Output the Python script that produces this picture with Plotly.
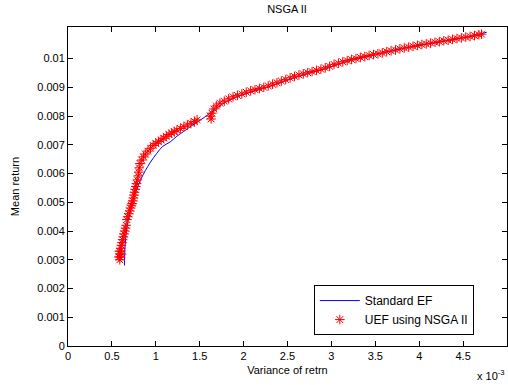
import plotly.graph_objects as go

# Standard efficient frontier (variance in units of 1e-3, mean return)
ef_var = [0.644, 0.645, 0.648, 0.655, 0.665, 0.68, 0.70, 0.725, 0.755, 0.79, 0.83, 0.88, 0.94,
          1.01, 1.08, 1.164, 1.24, 1.315, 1.41, 1.506, 1.62, 1.75, 1.885, 2.075, 2.265, 2.455,
          2.645, 2.835, 3.0, 3.21, 3.5, 3.78, 4.0, 4.35, 4.6, 4.77]
ef_mean = [0.0028, 0.0031, 0.0034, 0.0037, 0.0040, 0.0043, 0.0046, 0.0049, 0.0052, 0.0055, 0.0058,
           0.0061, 0.0064, 0.0067, 0.00695, 0.0071, 0.0073, 0.00746, 0.00767, 0.00786, 0.0081,
           0.0084, 0.00862, 0.00883, 0.0090, 0.0092, 0.0094, 0.00957, 0.00972, 0.00993, 0.01013,
           0.01033, 0.01046, 0.01064, 0.01078, 0.01092]

# UEF using NSGA II (variance in units of 1e-3, mean return)
uef_var = [0.580, 0.585, 0.610, 0.590, 0.592, 0.595, 0.598, 0.602, 0.608, 0.615, 0.622, 0.630, 0.638,
           0.646, 0.655, 0.662, 0.670, 0.680, 0.692, 0.702, 0.712, 0.722, 0.730, 0.738, 0.745,
           0.752, 0.758, 0.765, 0.772, 0.780, 0.790, 0.800, 0.805, 0.812,
           0.82, 0.84, 0.86, 0.88, 0.91, 0.94, 0.97, 1.00, 1.03, 1.06, 1.09, 1.12, 1.15, 1.18,
           1.21, 1.24, 1.28, 1.32, 1.36, 1.40, 1.44, 1.47,
           1.62, 1.63, 1.64, 1.66, 1.69, 1.73, 1.78, 1.83, 1.88, 1.93, 1.98, 2.03, 2.08, 2.13,
           2.18, 2.23, 2.28, 2.33, 2.38, 2.43, 2.48, 2.53, 2.58, 2.63, 2.68, 2.73, 2.78, 2.83,
           2.88, 2.93, 2.98, 3.03, 3.08, 3.13, 3.18, 3.23, 3.28, 3.33, 3.38, 3.43, 3.48, 3.53,
           3.58, 3.63, 3.68, 3.73, 3.78, 3.83, 3.88, 3.93, 3.98, 4.03, 4.08, 4.13, 4.18, 4.23,
           4.28, 4.33, 4.38, 4.43, 4.48, 4.53, 4.58, 4.63, 4.68, 4.71]
uef_mean = [0.00310, 0.00330, 0.00320, 0.00300, 0.00310, 0.00320, 0.00330, 0.00340, 0.00350, 0.00360,
            0.00370, 0.00380, 0.00390, 0.00400, 0.00410, 0.00420, 0.00440, 0.00450, 0.00460,
            0.00470, 0.00480, 0.00490, 0.00496, 0.00505, 0.00515, 0.00525, 0.00535, 0.00545,
            0.00555, 0.00565, 0.00578, 0.00592, 0.00605, 0.00620,
            0.00635, 0.00647, 0.00658, 0.00668, 0.00678, 0.00688, 0.00698, 0.00705, 0.00711,
            0.00717, 0.00723, 0.00730, 0.00736, 0.00741, 0.00746, 0.00751, 0.00757, 0.00763,
            0.00769, 0.00775, 0.00781, 0.00787,
            0.00800, 0.00790, 0.00810, 0.00825, 0.00835, 0.00845, 0.00852, 0.00860, 0.00867,
            0.00872, 0.00877, 0.00883, 0.00888, 0.00892, 0.00896, 0.00900, 0.00905, 0.00911,
            0.00916, 0.00922, 0.00927, 0.00933, 0.00938, 0.00943, 0.00947, 0.00951, 0.00955,
            0.00959, 0.00963, 0.00968, 0.00973, 0.00980, 0.00984, 0.00989, 0.00993, 0.00997,
            0.01000, 0.01004, 0.01007, 0.01011, 0.01014, 0.01017, 0.01020, 0.01024, 0.01027,
            0.01030, 0.01034, 0.01037, 0.01040, 0.01043, 0.01046, 0.01049, 0.01051, 0.01054,
            0.01057, 0.01059, 0.01062, 0.01064, 0.01067, 0.01070, 0.01072, 0.01075, 0.01077,
            0.01080, 0.01083, 0.01085]

x_ticks = [0, 0.5, 1, 1.5, 2, 2.5, 3, 3.5, 4, 4.5, 5]
x_ticktext = ["0", "0.5", "1", "1.5", "2", "2.5", "3", "3.5", "4", "4.5", "5"]
y_ticks = [0, 0.001, 0.002, 0.003, 0.004, 0.005, 0.006, 0.007, 0.008, 0.009, 0.01]
y_ticktext = ["0", "0.001", "0.002", "0.003", "0.004", "0.005", "0.006", "0.007", "0.008", "0.009", "0.01"]

FONT = "Liberation Sans, Arial, sans-serif"

fig = go.Figure()
fig.add_trace(go.Scatter(
    x=ef_var, y=ef_mean, mode="lines", name="Standard EF",
    line=dict(color="#0000ff", width=1), line_shape="spline"))
fig.add_trace(go.Scatter(
    x=uef_var, y=uef_mean, mode="markers", name="UEF using NSGA II",
    marker=dict(symbol="asterisk-open", size=8, color="#ff0000",
                line=dict(color="#ff0000", width=1))))

axis_common = dict(showline=True, linecolor="black", linewidth=1, mirror="ticks",
                   ticks="inside", ticklen=5, tickcolor="black", tickwidth=1,
                   showgrid=False, zeroline=False, automargin=False,
                   tickfont=dict(family=FONT, size=11, color="black"))

fig.update_layout(
    width=508, height=385,
    margin=dict(l=68, r=1, t=27, b=39),
    paper_bgcolor="white", plot_bgcolor="white",
    font=dict(family=FONT, size=11, color="black"),
    title=dict(text="NSGA II", x=0.565, xanchor="center", y=0.975, yanchor="middle",
               font=dict(family=FONT, size=11, color="black")),
    xaxis=dict(range=[0, 5], tickvals=x_ticks, ticktext=x_ticktext,
               title=dict(text="Variance of retrn", standoff=5,
                          font=dict(family=FONT, size=11)),
               **axis_common),
    yaxis=dict(range=[0, 0.0111], tickvals=y_ticks, ticktext=y_ticktext,
               title=dict(text="Mean return", standoff=15,
                          font=dict(family=FONT, size=11)),
               **axis_common),
    legend=dict(x=0.56, y=0.191, xanchor="left", yanchor="top",
                bgcolor="white", bordercolor="black", borderwidth=1,
                font=dict(family=FONT, size=12, color="black"),
                tracegroupgap=0, itemwidth=40),
    annotations=[dict(text="x 10<sup>-3</sup>", xref="paper", yref="paper",
                      x=1.0, y=-0.119, xanchor="right", yanchor="bottom", showarrow=False,
                      font=dict(family=FONT, size=11, color="black"))],
)

fig.write_html("out.html", config={"displayModeBar": False},
               post_script="document.body.style.margin='0';document.body.style.overflow='hidden';")
